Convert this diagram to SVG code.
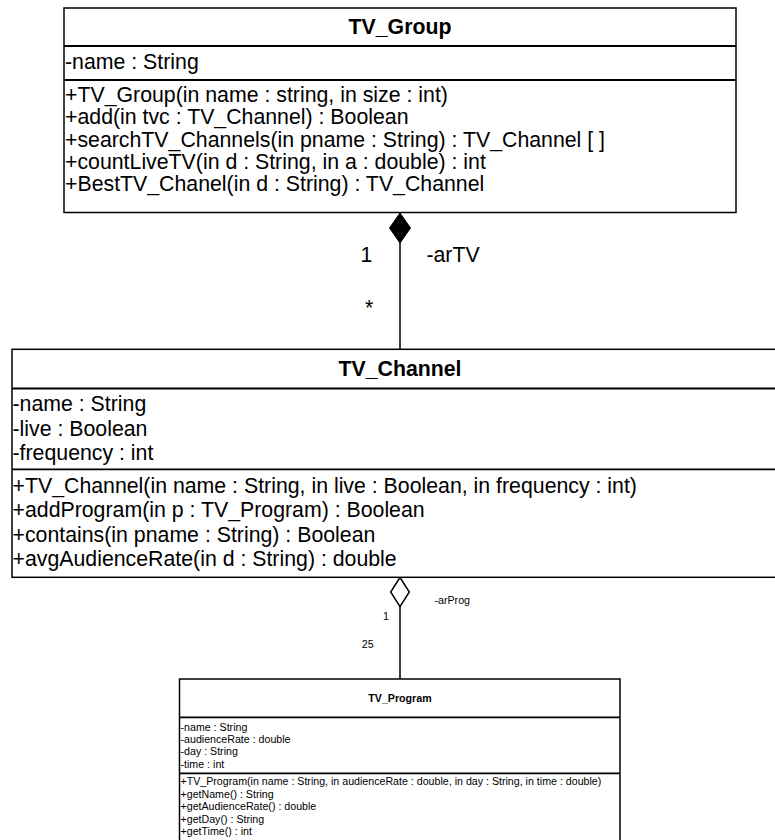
<svg xmlns="http://www.w3.org/2000/svg" width="775" height="840" viewBox="0 0 775 840">
<style>
.box{fill:#fff;stroke:#000;stroke-width:1.5}
.div{stroke:#000;stroke-width:1.8}
.t{font-family:"Liberation Sans",Arial,sans-serif;font-size:21.3px;fill:#000}
.tb{font-family:"Liberation Sans",Arial,sans-serif;font-size:21.3px;font-weight:bold;fill:#000}
.s{font-family:"Liberation Sans",Arial,sans-serif;font-size:10.65px;fill:#000}
.sb{font-family:"Liberation Sans",Arial,sans-serif;font-size:10.65px;font-weight:bold;fill:#000}
.ln{stroke:#000;stroke-width:1.5;fill:none}
</style>
<rect width="775" height="840" fill="#fff"/>
<g id="connectors">
<line class="ln" x1="400" y1="243" x2="400" y2="349.3"/>
<polygon points="400,213 410.5,228 400,243 389.5,228" fill="#000" stroke="#000" stroke-width="1"/>
<line class="ln" x1="400" y1="606.7" x2="400" y2="679"/>
<polygon points="400,577.5 409.3,592 400,606.7 390.7,592" fill="#fff" stroke="#000" stroke-width="1.5"/>
<text class="t" x="360.4" y="262">1</text>
<text class="t" x="426.4" y="262">-arTV</text>
<text class="t" x="365" y="315">*</text>
<text class="s" x="434.5" y="603.5">-arProg</text>
<text class="s" x="383" y="619.5">1</text>
<text class="s" x="361.8" y="647.5">25</text>
</g>
<g id="TV_Group">
<rect class="box" x="64" y="8" width="672" height="204.5"/>
<line class="div" x1="64" y1="46" x2="736" y2="46"/>
<line class="div" x1="64" y1="80" x2="736" y2="80"/>
<text class="tb" x="400" y="34" text-anchor="middle">TV_Group</text>
<text class="t" x="65" y="69">-name : String</text>
<text class="t" x="65" y="102">+TV_Group(in name : string, in size : int)</text>
<text class="t" x="65" y="124">+add(in tvc : TV_Channel) : Boolean</text>
<text class="t" x="65" y="146.5">+searchTV_Channels(in pname : String) : TV_Channel [ ]</text>
<text class="t" x="65" y="168.5">+countLiveTV(in d : String, in a : double) : int</text>
<text class="t" x="65" y="190.5">+BestTV_Chanel(in d : String) : TV_Channel</text>
</g>
<g id="TV_Channel">
<rect class="box" x="12" y="349.3" width="800" height="228"/>
<line class="div" x1="12" y1="388.5" x2="775" y2="388.5"/>
<line class="div" x1="12" y1="469.3" x2="775" y2="469.3"/>
<text class="tb" x="400" y="376" text-anchor="middle">TV_Channel</text>
<text class="t" x="12.5" y="410.7">-name : String</text>
<text class="t" x="12.5" y="435.5">-live : Boolean</text>
<text class="t" x="12.5" y="460.3">-frequency : int</text>
<text class="t" x="12.5" y="492.7">+TV_Channel(in name : String, in live : Boolean, in frequency : int)</text>
<text class="t" x="12.5" y="517.2">+addProgram(in p : TV_Program) : Boolean</text>
<text class="t" x="12.5" y="541.7">+contains(in pname : String) : Boolean</text>
<text class="t" x="12.5" y="566.2">+avgAudienceRate(in d : String) : double</text>
</g>
<g id="TV_Program">
<rect class="box" x="179.5" y="679" width="440.5" height="180"/>
<line class="div" x1="179.5" y1="717.3" x2="620" y2="717.3"/>
<line class="div" x1="179.5" y1="773.3" x2="620" y2="773.3"/>
<text class="sb" x="400" y="702" text-anchor="middle">TV_Program</text>
<text class="s" x="180.5" y="730.5">-name : String</text>
<text class="s" x="180.5" y="742.9">-audienceRate : double</text>
<text class="s" x="180.5" y="755.3">-day : String</text>
<text class="s" x="180.5" y="767.7">-time : int</text>
<text class="s" x="180.5" y="785.3">+TV_Program(in name : String, in audienceRate : double, in day : String, in time : double)</text>
<text class="s" x="180.5" y="797.7">+getName() : String</text>
<text class="s" x="180.5" y="810.1">+getAudienceRate() : double</text>
<text class="s" x="180.5" y="822.5">+getDay() : String</text>
<text class="s" x="180.5" y="834.9">+getTime() : int</text>
</g>
</svg>
